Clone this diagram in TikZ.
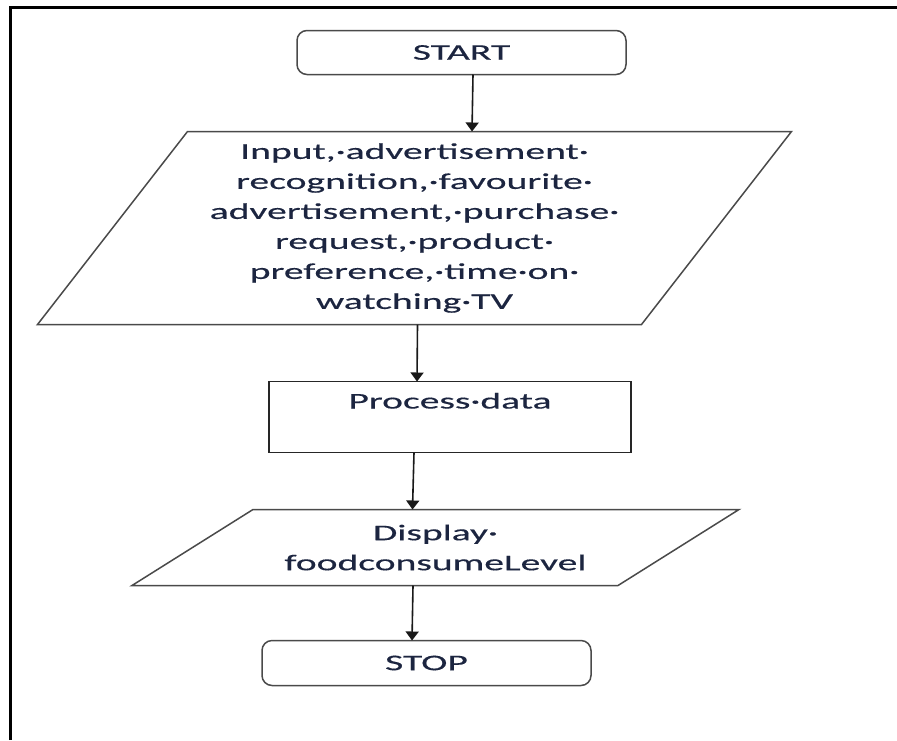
\documentclass[tikz,border=0pt]{standalone}
\usepackage{fontspec}
\setmainfont{Carlito}[FakeStretch=1.76, FakeBold=0.4]
\usepackage{xcolor}
\usepackage{tikz}
\usetikzlibrary{positioning,arrows.meta}

\definecolor{textblue}{HTML}{1C2540}
\definecolor{edgegray}{HTML}{4A4A4A}

\begin{document}
\begin{tikzpicture}[
    x=1pt, y=-1pt,
    node distance=57pt,
    every node/.style={outer sep=0pt, text=textblue, font=\fontsize{22.5}{30}\selectfont},
    term/.style={rectangle, rounded corners=10pt, draw=edgegray, line width=1.5pt, minimum width=329pt, minimum height=44pt},
    iotext/.style={rectangle, inner sep=0pt, align=center},
    iobox/.style={draw=edgegray, line width=1.5pt},
    procbox/.style={rectangle, draw=black!85, line width=1.5pt, inner sep=0pt, minimum width=362pt, text height=27pt, text depth=44pt},
    arrow/.style={-{Triangle[length=9pt,width=13pt]}, line width=1.6pt, black!90},
    frame/.style={line width=3pt, black}
]
    \useasboundingbox (0,0) rectangle (897,740);
    \draw[frame] (10,740) -- (10,7) -- (897,7);

    \node[term] (start) at (461.5,52.5) {START};
    \node[iotext, minimum width=604pt, minimum height=193pt, below=of start, xshift=-47pt] (input)
        {Input,·advertisement·\\recognition,·favourite·\\advertisement,·purchase·\\request,·product·\\preference,·time·on·\\watching·TV};
    \node[procbox, below=of input, xshift=35.5pt] (process) {Process·data};
    \node[iotext, minimum width=486pt, minimum height=76pt, below=of process, xshift=-14.5pt] (display)
        {Display·\\foodconsumeLevel};
    \node[term, minimum height=45pt, below=55pt of display, xshift=-9pt] (stop) {STOP};

    % input / output slants
    \draw[iobox] ([xshift=75pt]input.north west) -- ([xshift=75pt]input.north east)
        -- ([xshift=-75pt]input.south east) -- ([xshift=-75pt]input.south west) -- cycle;
    \draw[iobox] ([xshift=60.5pt]display.north west) -- ([xshift=60.5pt]display.north east)
        -- ([xshift=-60.5pt]display.south east) -- ([xshift=-60.5pt]display.south west) -- cycle;

    \draw[arrow] ([xshift=11.5pt]start.south) -- ([xshift=57.5pt]input.north);
    \draw[arrow] ([xshift=3pt]input.south) -- ([xshift=-33pt]process.north);
    \draw[arrow] ([xshift=-36pt]process.south) -- ([xshift=-23pt]display.north);
    \draw[arrow] ([xshift=-22.5pt]display.south) -- ([xshift=-14.5pt]stop.north);
\end{tikzpicture}
\end{document}
